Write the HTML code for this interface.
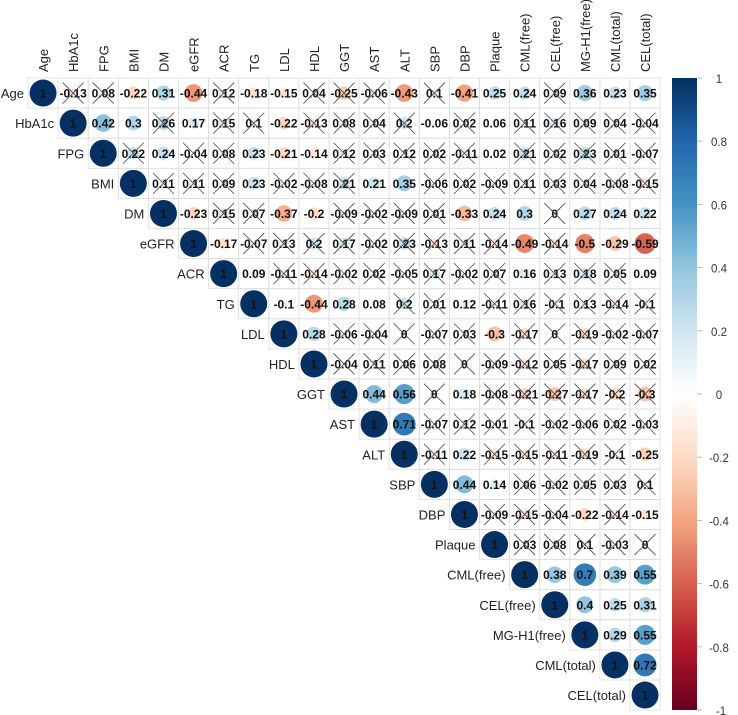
<!DOCTYPE html>
<html><head><meta charset="utf-8">
<style>
html,body{margin:0;padding:0;background:#fff;}
svg{display:block;font-family:"Liberation Sans",Arial,sans-serif;}
</style></head>
<body>
<svg id="chart" width="738" height="715" viewBox="0 0 738 715" xmlns="http://www.w3.org/2000/svg">
<defs>
<linearGradient id="cbar" x1="0" y1="1" x2="0" y2="0">
<stop offset="0" stop-color="#67001F"/><stop offset="0.1" stop-color="#B2182B"/><stop offset="0.2" stop-color="#D6604D"/><stop offset="0.3" stop-color="#F4A582"/><stop offset="0.4" stop-color="#FDDBC7"/><stop offset="0.5" stop-color="#FFFFFF"/><stop offset="0.6" stop-color="#D1E5F0"/><stop offset="0.7" stop-color="#92C5DE"/><stop offset="0.8" stop-color="#4393C3"/><stop offset="0.9" stop-color="#2166AC"/><stop offset="1" stop-color="#053061"/>
</linearGradient>
</defs>
<g id="grid"></g>
<g id="marks"></g>
<g id="labels"></g>
<g id="legend">
<rect x="672" y="78" width="25" height="632" fill="url(#cbar)"/>
</g>
</svg>
<script>
const variables = ["Age","HbA1c","FPG","BMI","DM","eGFR","ACR","TG","LDL","HDL","GGT","AST","ALT","SBP","DBP","Plaque","CML(free)","CEL(free)","MG-H1(free)","CML(total)","CEL(total)"];
const rowValues = [
 [-0.13,0.08,-0.22,0.31,-0.44,0.12,-0.18,-0.15,0.04,-0.25,-0.06,-0.43,0.1,-0.41,0.25,0.24,0.09,0.36,0.23,0.35],
 [0.42,0.3,0.26,0.17,0.15,0.1,-0.22,-0.13,0.08,0.04,0.2,-0.06,0.02,0.06,0.11,0.16,0.09,0.04,-0.04],
 [0.22,0.24,-0.04,0.08,0.23,-0.21,-0.14,0.12,0.03,0.12,0.02,-0.11,0.02,0.21,0.02,0.23,0.01,-0.07],
 [0.11,0.11,0.09,0.23,-0.02,-0.08,0.21,0.21,0.35,-0.06,0.02,-0.09,0.11,0.03,0.04,-0.08,-0.15],
 [-0.23,0.15,0.07,-0.37,-0.2,-0.09,-0.02,-0.09,0.01,-0.33,0.24,0.3,0,0.27,0.24,0.22],
 [-0.17,-0.07,0.13,0.2,0.17,-0.02,0.23,-0.13,0.11,-0.14,-0.49,-0.14,-0.5,-0.29,-0.59],
 [0.09,-0.11,-0.14,-0.02,0.02,-0.05,0.17,-0.02,0.07,0.16,0.13,0.18,0.05,0.09],
 [-0.1,-0.44,0.28,0.08,0.2,0.01,0.12,-0.11,0.16,-0.1,0.13,-0.14,-0.1],
 [0.28,-0.06,-0.04,0,-0.07,0.03,-0.3,-0.17,0,-0.19,-0.02,-0.07],
 [-0.04,0.11,0.06,0.08,0,-0.09,-0.12,0.05,-0.17,0.09,0.02],
 [0.44,0.56,0,0.18,-0.08,-0.21,-0.27,-0.17,-0.2,-0.3],
 [0.71,-0.07,0.12,-0.01,-0.1,-0.02,-0.06,0.02,-0.03],
 [-0.11,0.22,-0.15,-0.15,-0.11,-0.19,-0.1,-0.25],
 [0.44,0.14,0.06,-0.02,0.05,0.03,0.1],
 [-0.09,-0.15,-0.04,-0.22,-0.14,-0.15],
 [0.03,0.08,0.1,-0.03,0],
 [0.38,0.7,0.39,0.55],
 [0.4,0.25,0.31],
 [0.29,0.55],
 [0.72],
 []
];
const rowCrossed = [
 [1,1,0,0,0,1,0,0,1,1,1,0,1,0,0,0,1,0,0,0],
 [0,0,1,0,1,1,0,1,1,1,1,0,1,0,1,1,1,1,1],
 [1,0,1,1,0,0,0,1,1,1,1,1,0,1,1,1,1,1],
 [1,1,1,0,1,1,1,0,0,1,1,1,1,1,1,1,1],
 [0,1,1,0,0,1,1,1,1,0,0,0,1,0,0,0],
 [0,1,1,1,1,1,1,1,1,1,0,1,0,0,0],
 [0,1,1,1,1,1,1,1,1,0,1,1,1,0],
 [0,0,0,0,1,1,0,1,1,1,1,1,1],
 [0,1,1,1,1,1,0,1,1,1,1,1],
 [1,1,1,1,1,1,1,1,1,1,1],
 [0,0,1,0,1,1,1,1,1,1],
 [0,1,1,1,1,1,1,1,1],
 [1,0,1,1,1,1,1,0],
 [0,0,1,1,1,1,1],
 [1,1,1,0,1,0],
 [1,1,1,1,1],
 [0,0,0,0],
 [0,0,0],
 [0,0],
 [0],
 []
];
const legendTicks = [1,0.8,0.6,0.4,0.2,0,-0.2,-0.4,-0.6,-0.8,-1];
const legendLabels = ["1","0.8","0.6","0.4","0.2","0","-0.2","-0.4","-0.6","-0.8","-1"];

const NS="http://www.w3.org/2000/svg";
const N=variables.length, X0=28, Y0=78, CS=30.1;
const cx=i=>X0+CS*(i+0.5), cy=i=>Y0+CS*(i+0.5);
const legY=v=>78+(1-v)/2*632;
const stops=[[103,0,31],[178,24,43],[214,96,77],[244,165,130],[253,219,199],[255,255,255],[209,229,240],[146,197,222],[67,147,195],[33,102,172],[5,48,97]];
function color(v){const t=(v+1)/2*10;const i=Math.min(9,Math.floor(t)),f=t-i;const a=stops[i],b=stops[i+1];return `rgb(${a.map((c,k)=>Math.round(c+(b[k]-c)*f)).join(",")})`;}
function el(tag,attrs,parent){const e=document.createElementNS(NS,tag);for(const k in attrs)e.setAttribute(k,attrs[k]);parent.appendChild(e);return e;}
const grid=document.getElementById('grid'),marks=document.getElementById('marks'),labels=document.getElementById('labels'),legend=document.getElementById('legend');

for(let r=0;r<N;r++){
  const vals=[1].concat(rowValues[r]); const cr=[0].concat(rowCrossed[r]);
  for(let k=0;k<vals.length;k++){
    const c=r+k;
    const cell=el('rect',{x:X0+CS*c,y:Y0+CS*r,width:CS,height:CS,fill:'none',stroke:'#dcdcdc','stroke-width':0.8},grid);
    
    
    const v=vals[k];
    const rad=Math.sqrt(Math.abs(v))*13.5;
    if(rad>0.3){
      const circ=el('circle',{cx:cx(c),cy:cy(r),r:rad,fill:color(v)},marks);
      
      
    }
    const txt=el('text',{x:cx(c),y:cy(r)+4.5,'text-anchor':'middle','font-size':12,'font-weight':'bold',fill:'#111'},marks);
    txt.textContent=(k===0?'1':String(v));
    
    
    if(cr[k]){
      const d=10.5;
      const p=el('path',{d:`M${cx(c)-d},${cy(r)-d}L${cx(c)+d},${cy(r)+d}M${cx(c)+d},${cy(r)-d}L${cx(c)-d},${cy(r)+d}`,stroke:'#444','stroke-width':0.8,fill:'none'},marks);
      
      
    }
  }
  const rl=el('text',{x:X0+CS*r-4,y:cy(r)+5,'text-anchor':'end','font-size':13,fill:'#222'},labels);
  rl.textContent=variables[r];
  
  
  const cl=el('text',{x:0,y:0,'text-anchor':'start','font-size':13,fill:'#222',transform:`translate(${cx(r)+5},${Y0-6}) rotate(-90)`},labels);
  cl.textContent=variables[r];
  
  
}
legendTicks.forEach((v,i)=>{
  const t=el('line',{x1:697,x2:702,y1:legY(v),y2:legY(v),stroke:'#bbb','stroke-width':1},legend);
  
  
  const l=el('text',{x:i===legendTicks.length-1?721:719,y:legY(v)+5,'text-anchor':'middle','font-size':11.5,fill:'#333'},legend);
  l.textContent=legendLabels[i];
  
  
});
</script>
</body></html>
